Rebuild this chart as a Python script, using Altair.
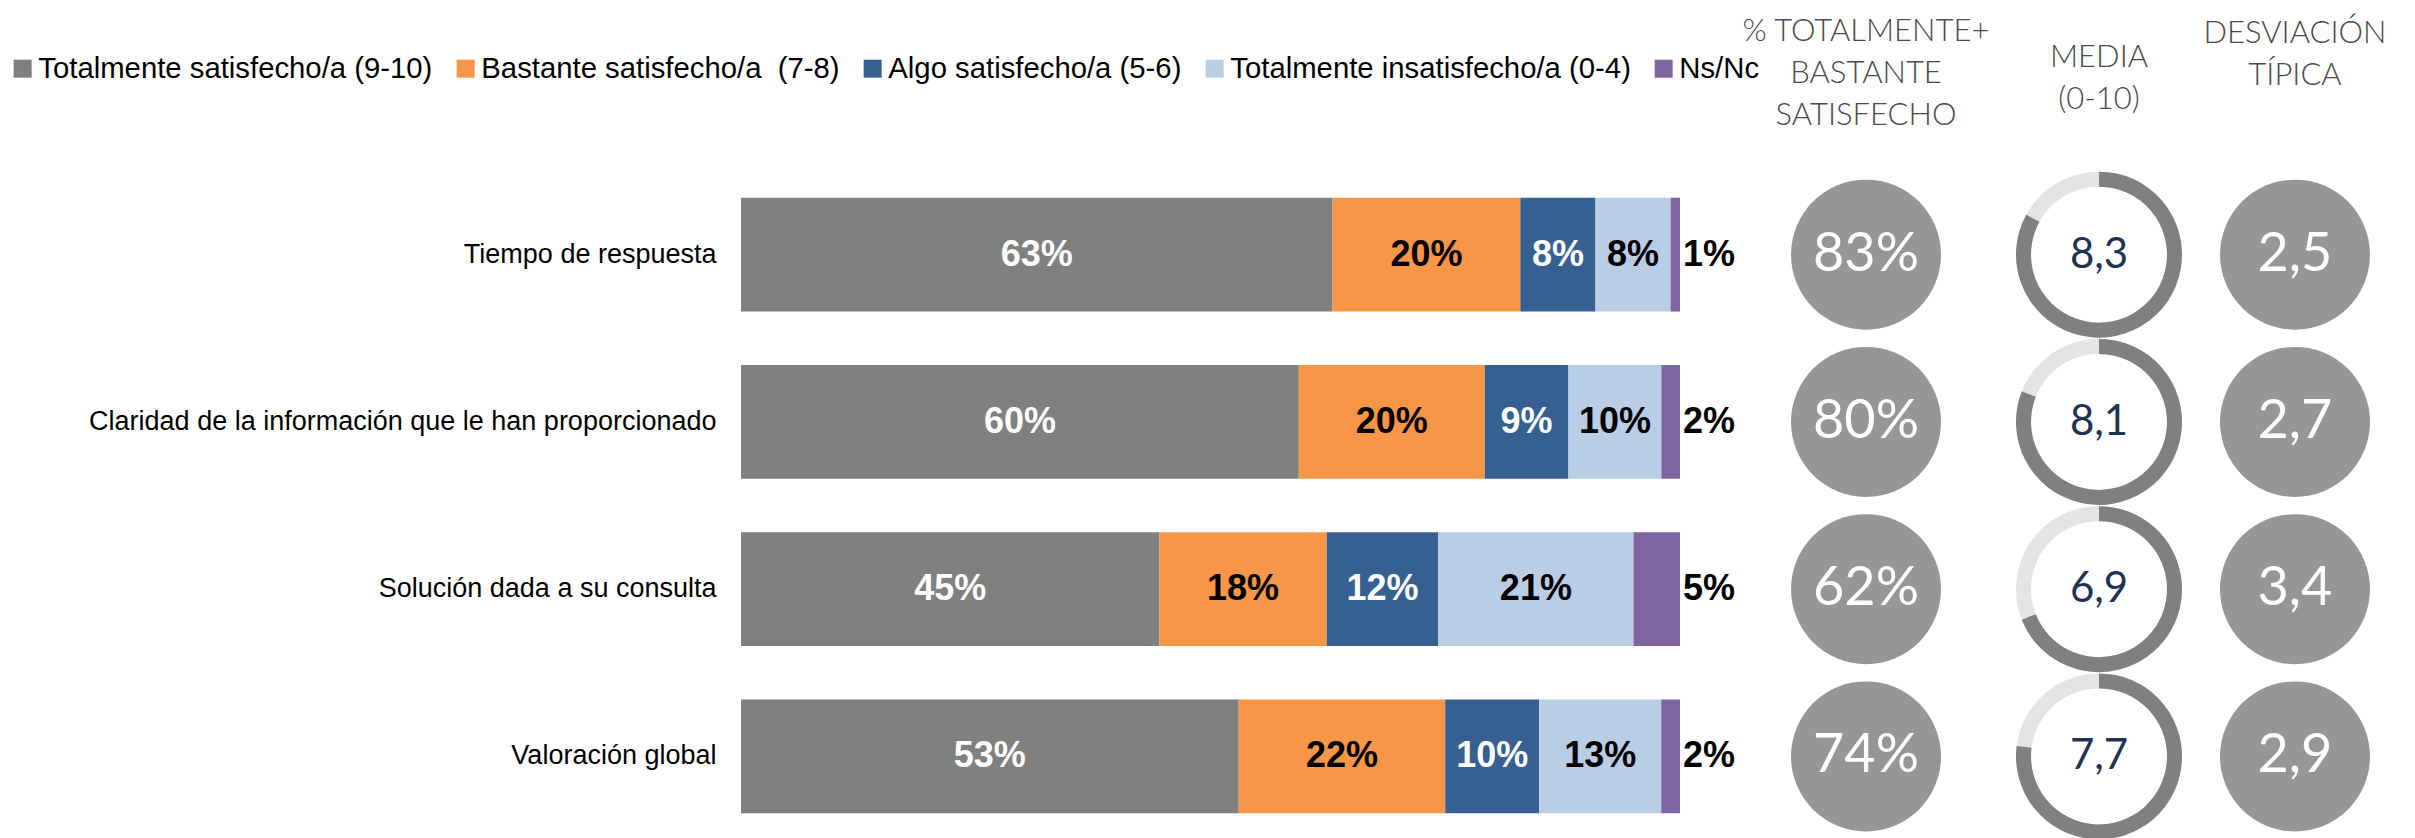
import altair as alt
import pandas as pd

# ---------------- data ----------------
preguntas = [
    "Tiempo de respuesta",
    "Claridad de la información que le han proporcionado",
    "Solución dada a su consulta",
    "Valoración global",
]
categorias = [
    "Totalmente satisfecho/a (9-10)",
    "Bastante satisfecho/a \u00a0(7-8)",
    "Algo satisfecho/a (5-6)",
    "Totalmente insatisfecho/a (0-4)",
    "Ns/Nc",
]
totalmente = [63, 60, 45, 53]
bastante = [20, 20, 18, 22]
algo = [8, 9, 12, 10]
insatisfecho = [8, 10, 21, 13]
nsnc = [1, 2, 5, 2]

pct_satisfecho = [83, 80, 62, 74]
media = [8.3, 8.1, 6.9, 7.7]
desviacion = [2.5, 2.7, 3.4, 2.9]

colores = ["#808080", "#F79646", "#366092", "#B9CDE5", "#8064A2"]
color_texto = ["#FFFFFF", "#000000", "#FFFFFF", "#000000", "#000000"]

# ---------------- tables ----------------
series = [totalmente, bastante, algo, insatisfecho, nsnc]
rows = []
for i, q in enumerate(preguntas):
    vals = [s[i] for s in series]
    tot = sum(vals)
    cum = 0
    for j, v in enumerate(vals):
        rows.append({
            "pregunta": q,
            "categoria": categorias[j],
            "orden": j,
            "valor": v,
            "etiqueta": f"{v}%",
            "inicio": cum / tot * 100,
            "fin": (cum + v) / tot * 100,
            "medio": (cum + v / 2) / tot * 100,
        })
        cum += v
df = pd.DataFrame(rows)

df_r = pd.DataFrame({
    "pregunta": preguntas,
    "pct": pct_satisfecho,
    "media": media,
    "desv": desviacion,
})

H = 669
FONT = "Liberation Sans"
THIN = "Lato"

# ---------------- bar panel ----------------
y_bar = alt.Y(
    "pregunta:N", sort=preguntas, title=None,
    scale=alt.Scale(paddingInner=0.32, paddingOuter=0.16),
    axis=alt.Axis(labelFont=FONT, labelFontSize=27, labelColor="#000000",
                  ticks=False, domain=False, labelPadding=25, labelLimit=1200),
)
x_scale = alt.Scale(domain=[0, 100], nice=False)

bars = alt.Chart(df).mark_bar(opacity=1).encode(
    y=y_bar,
    x=alt.X("inicio:Q", scale=x_scale, axis=None),
    x2="fin:Q",
    color=alt.Color(
        "categoria:N",
        scale=alt.Scale(domain=categorias, range=colores),
        legend=alt.Legend(
            orient="none", legendX=-733, legendY=-117, direction="horizontal",
            columns=5, title=None, symbolType="square", symbolSize=324,
            symbolStrokeWidth=0, symbolOpacity=1, labelFont=FONT,
            labelFontSize=29.3, labelColor="#000000", columnPadding=18,
            labelOffset=1, labelLimit=1200, padding=0,
        ),
    ),
    order=alt.Order("orden:Q"),
)

txt_main = alt.Chart(df).transform_filter(
    alt.datum.categoria != "Ns/Nc"
).mark_text(font=FONT, fontWeight="bold", fontSize=36, baseline="middle", align="center").encode(
    y=alt.Y("pregunta:N", sort=preguntas),
    x=alt.X("medio:Q", scale=x_scale),
    text="etiqueta:N",
    fill=alt.Fill("categoria:N", scale=alt.Scale(domain=categorias, range=color_texto), legend=None),
)

txt_ns = alt.Chart(df).transform_filter(
    alt.datum.categoria == "Ns/Nc"
).mark_text(font=FONT, fontWeight="bold", fontSize=36, baseline="middle", align="left", dx=3,
            color="#000000").encode(
    y=alt.Y("pregunta:N", sort=preguntas),
    x=alt.X("fin:Q", scale=x_scale),
    text="etiqueta:N",
)

panel_bars = alt.layer(bars, txt_main, txt_ns).properties(width=939, height=H)

# ---------------- right panels ----------------
y_pt = alt.Y("pregunta:N", sort=preguntas, scale=alt.Scale(type="point", padding=0.5), axis=None)


def header(lines, offset):
    return alt.TitleParams(
        lines, font=THIN, fontWeight=300, fontSize=31, color="#4A4A4A",
        lineHeight=42, anchor="middle", frame="group", offset=offset,
    )


WB, WC, WD = 234, 94, 160
CIRC = 22500  # symbol area (bounding square), 150 px diameter

circ_pct = alt.Chart(df_r).mark_circle(color="#969696", opacity=1, size=CIRC).encode(
    y=y_pt, x=alt.value(WB / 2)
)
txt_pct = alt.Chart(df_r).transform_calculate(
    t="format(datum.pct, 'd') + '%'"
).mark_text(font=THIN, fontWeight=400, fontSize=54, color="#FFFFFF", baseline="middle").encode(
    y=y_pt, x=alt.value(WB / 2), text="t:N"
)
panel_pct = alt.layer(circ_pct, txt_pct).properties(
    width=WB, height=H, title=header(["% TOTALMENTE+", "BASTANTE", "SATISFECHO"], 39)
)

th_scale = alt.Scale(domain=[0, 10], range=[0, 6.283185307179586])
ring_bg = alt.Chart(df_r).transform_calculate(cero="0", diez="10").mark_arc(
    innerRadius=68, outerRadius=83, color="#E4E4E4"
).encode(
    theta=alt.Theta("cero:Q", scale=th_scale, stack=False),
    theta2="diez:Q",
    y=y_pt, x=alt.value(WC / 2),
)
ring_fg = alt.Chart(df_r).transform_calculate(cero="0").mark_arc(
    innerRadius=68, outerRadius=83, color="#808080"
).encode(
    theta=alt.Theta("cero:Q", scale=th_scale, stack=False),
    theta2="media:Q",
    y=y_pt, x=alt.value(WC / 2),
)
txt_media = alt.Chart(df_r).transform_calculate(
    t="replace(format(datum.media, '.1f'), '.', ',')"
).mark_text(font=THIN, fontWeight=400, fontSize=42, color="#1F3251", baseline="middle").encode(
    y=y_pt, x=alt.value(WC / 2), text="t:N"
)
panel_media = alt.layer(ring_bg, ring_fg, txt_media).properties(
    width=WC, height=H, title=header(["MEDIA", "(0-10)"], 55)
)

circ_desv = alt.Chart(df_r).mark_circle(color="#969696", opacity=1, size=CIRC).encode(
    y=y_pt, x=alt.value(WD / 2)
)
txt_desv = alt.Chart(df_r).transform_calculate(
    t="replace(format(datum.desv, '.1f'), '.', ',')"
).mark_text(font=THIN, fontWeight=400, fontSize=54, color="#FFFFFF", baseline="middle").encode(
    y=y_pt, x=alt.value(WD / 2), text="t:N"
)
panel_desv = alt.layer(circ_desv, txt_desv).properties(
    width=WD, height=H, title=header(["DESVIACIÓN", "TÍPICA"], 79)
)

chart = alt.hconcat(
    panel_bars, panel_pct, panel_media, panel_desv, spacing=69, bounds="flush"
).configure_view(stroke=None).properties(
    background="#FFFFFF",
    padding={"left": 0, "top": 8, "right": 5, "bottom": 5},
)

chart.save("out.html", embed_options={"renderer": "svg", "actions": False})
